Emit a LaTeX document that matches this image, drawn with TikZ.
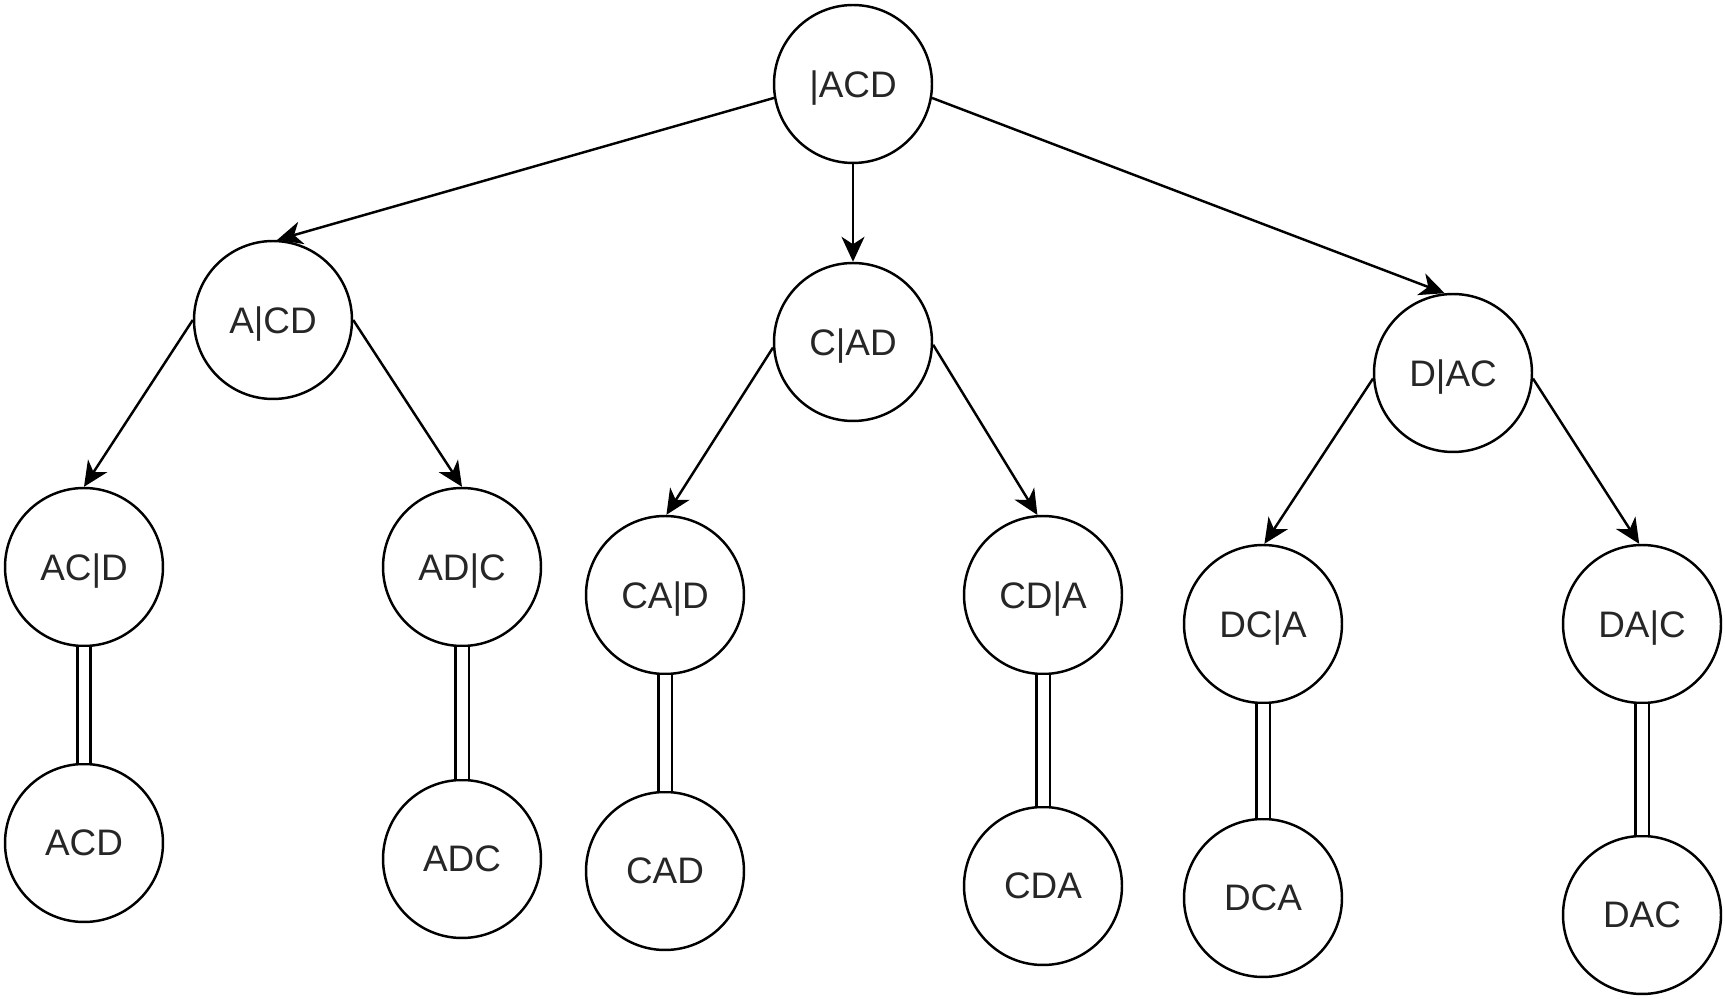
\documentclass[tikz,border=0pt]{standalone}
\usepackage{fontspec}
\setmainfont{Liberation Sans}
\usetikzlibrary{arrows.meta}
\begin{document}
\begin{tikzpicture}[x=0.02cm, y=-0.02cm,
  state/.style={circle, draw, line width=1.4pt, fill=white, inner sep=0pt,
    minimum size=3.16cm, text=black!85, font=\fontsize{21}{25}\selectfont,
    text depth=-0.08cm},
  branch/.style={line width=1.4pt, -{Stealth[length=0.5cm, width=0.46cm, inset=0.15cm]}},
  finish/.style={line width=1.3pt, double, double distance=0.22cm}]
\fill[white] (0,0) rectangle (1725,999);
\useasboundingbox (0,0) rectangle (1725,999);
% level 0
\node[state] (r)   at (853,84)   {|ACD};
% level 1
\node[state] (a)   at (273,320)  {A|CD};
\node[state] (c)   at (853,342)  {C|AD};
\node[state] (d)   at (1453,373) {D|AC};
% level 2
\node[state] (ac)  at (84,567)   {AC|D};
\node[state] (ad)  at (462,567)  {AD|C};
\node[state] (ca)  at (665,595)  {CA|D};
\node[state] (cd)  at (1043,595) {CD|A};
\node[state] (dc)  at (1263,624) {DC|A};
\node[state] (da)  at (1642,624) {DA|C};
% leaves
\node[state] (acd) at (84,843)   {ACD};
\node[state] (adc) at (462,859)  {ADC};
\node[state] (cad) at (665,871)  {CAD};
\node[state] (cda) at (1043,886) {CDA};
\node[state] (dca) at (1263,898) {DCA};
\node[state] (dac) at (1642,915) {DAC};
% arrows
\draw[branch] (r.190) -- (a.87);
\draw[branch] (r.south) -- (c.north);
\draw[branch] (r.-10) -- (d.96);
\draw[branch] (a.180) -- (ac.90);
\draw[branch] (a.0) -- (ad.90);
\draw[branch] (c.184) -- (ca.89);
\draw[branch] (c.-2) -- (cd.94);
\draw[branch] (d.184) -- (dc.89);
\draw[branch] (d.-4) -- (da.92);
% completed permutations
\draw[finish] (ac.south) -- (acd.north);
\draw[finish] (ad.south) -- (adc.north);
\draw[finish] (ca.south) -- (cad.north);
\draw[finish] (cd.south) -- (cda.north);
\draw[finish] (dc.south) -- (dca.north);
\draw[finish] (da.south) -- (dac.north);
\end{tikzpicture}
\end{document}
